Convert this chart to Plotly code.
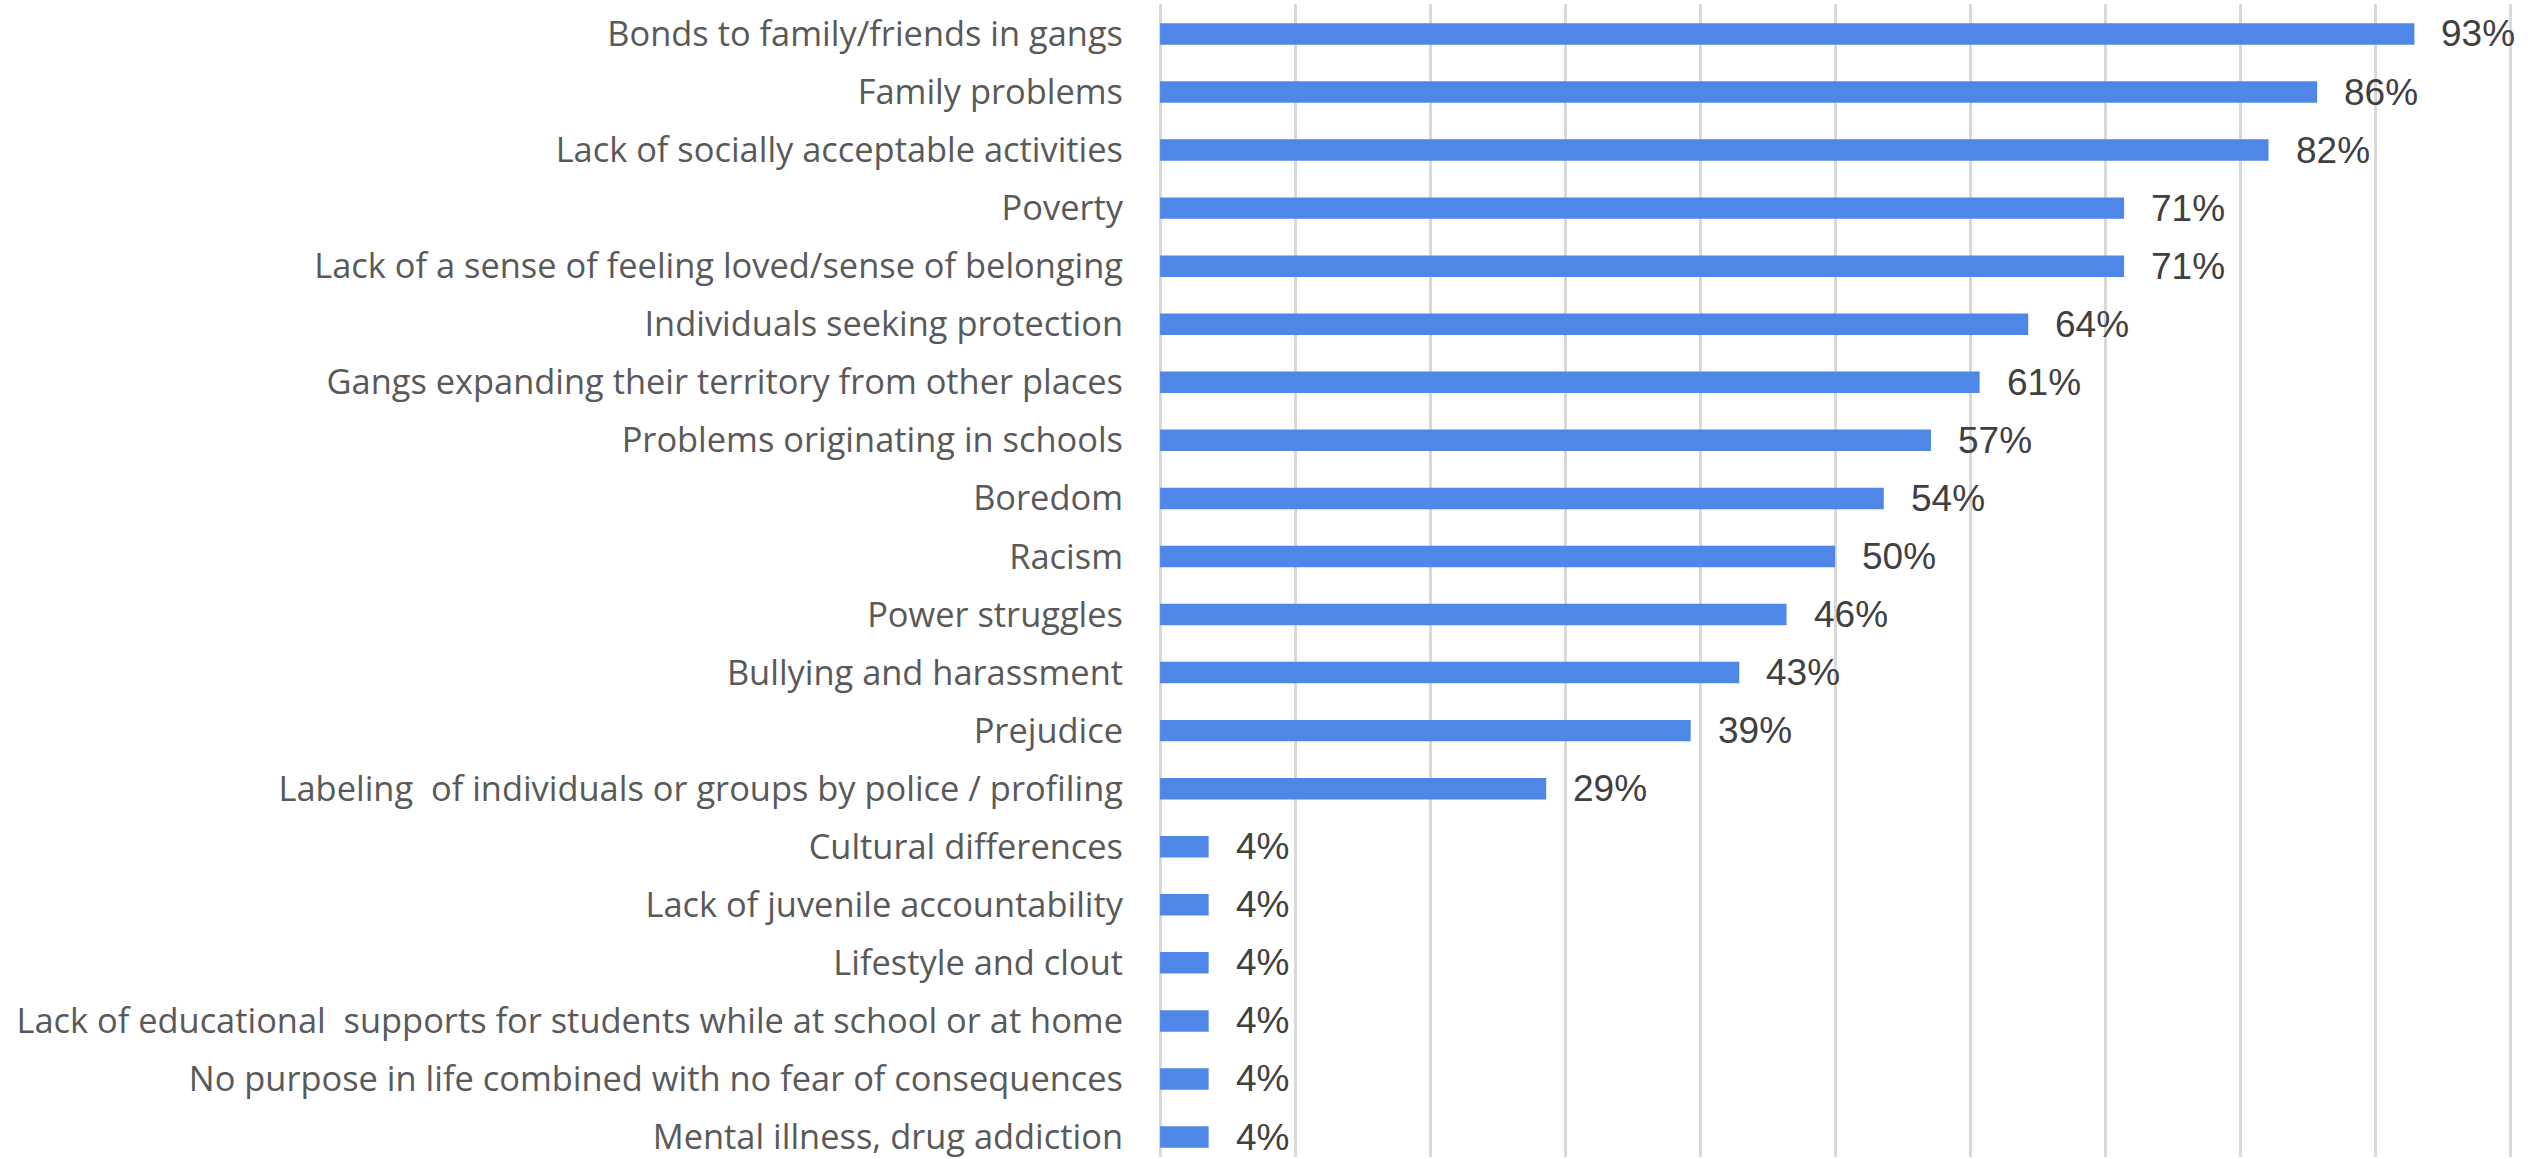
import plotly.graph_objects as go

categories = [
    "Bonds to family/friends in gangs",
    "Family problems",
    "Lack of socially acceptable activities",
    "Poverty",
    "Lack of a sense of feeling loved/sense of belonging",
    "Individuals seeking protection",
    "Gangs expanding their territory from other places",
    "Problems originating in schools",
    "Boredom",
    "Racism",
    "Power struggles",
    "Bullying and harassment",
    "Prejudice",
    "Labeling  of individuals or groups by police / profiling",
    "Cultural differences",
    "Lack of juvenile accountability",
    "Lifestyle and clout",
    "Lack of educational  supports for students while at school or at home",
    "No purpose in life combined with no fear of consequences",
    "Mental illness, drug addiction",
]
values = [92.9, 85.7, 82.1, 71.4, 71.4, 64.3, 60.7, 57.1, 53.6, 50.0,
          46.4, 42.9, 39.3, 28.6, 3.6, 3.6, 3.6, 3.6, 3.6, 3.6]
labels = ["93%", "86%", "82%", "71%", "71%", "64%", "61%", "57%", "54%", "50%",
          "46%", "43%", "39%", "29%", "4%", "4%", "4%", "4%", "4%", "4%"]

fig = go.Figure()
fig.add_trace(go.Bar(
    x=values, y=categories, orientation="h",
    marker=dict(color="#4f87e8", line=dict(width=0)),
    hoverinfo="x+y",
))

for c, v, t in zip(categories, values, labels):
    fig.add_annotation(x=v, y=c, text=t, showarrow=False, xanchor="left",
                       yanchor="middle", xshift=25,
                       font=dict(family="Liberation Sans, Arial", size=37, color="#404040"))

fig.update_layout(
    width=2534, height=1159,
    margin=dict(l=1156, r=17, t=4, b=0),
    paper_bgcolor="white", plot_bgcolor="white",
    bargap=0.63, showlegend=False,
    xaxis=dict(range=[-0.3, 100.5], dtick=10, tick0=0, showticklabels=False,
               showgrid=True, gridcolor="#d9d9d9", gridwidth=2.5,
               zeroline=False, showline=False, fixedrange=True),
    yaxis=dict(categoryorder="array", categoryarray=categories,
               range=[19.344, -0.516], showgrid=False, zeroline=False,
               showline=False, ticks="", ticklabelstandoff=32,
               tickfont=dict(family="Open Sans, Lato, sans-serif", size=34.4, color="#595959")),
)

fig.write_html("out.html", config={"displayModeBar": False},
               post_script="document.body.style.margin='0';document.body.style.overflow='hidden';")
